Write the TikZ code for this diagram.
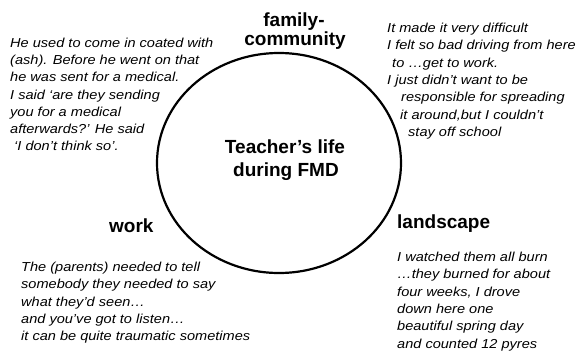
\documentclass[tikz,border=0pt]{standalone}
\usepackage{fontspec}
\setmainfont{Liberation Sans}
\newfontfamily\quotefont[FakeStretch=1.12]{Liberation Sans}
\begin{document}
\begin{tikzpicture}[x=1pt,y=-1pt,
  quote/.style={inner sep=0pt, align=left, anchor=north west, font=\quotefont\itshape\fontsize{13}{17.3}\selectfont},
  head/.style={inner sep=0pt, align=center, font=\bfseries\fontsize{19}{20}\selectfont},
  ring/.style={draw=black, line width=2.2pt}]
\useasboundingbox (0,0) rectangle (581,354);
\draw[ring] (279,163) ellipse [x radius=122, y radius=110];
\node[head, anchor=base] (centre) at (285,153) {Teacher’s life};
\node[head, anchor=base] (centre2) at (286,176.5) {during FMD};
\node[head, anchor=base] (fam) at (294,26.7) {family-};
\node[head, anchor=base] (com) at (295,45) {community};
\node[head, anchor=base west] (work) at (109,232) {work};
\node[head, anchor=base west] (land) at (397,228) {landscape};
\node[quote] (q1) at (10,37.5) {He used to come in coated with\\(ash). Before he went on that\\he was sent for a medical.\\I said ‘are they sending\\you for a medical\\afterwards?’ He said\\\hspace*{4pt}‘I don’t think so’.};
\node[quote] (q2) at (387,23) {It made it very difficult\\I felt so bad driving from here\\\hspace*{5pt}to …get to work.\\I just didn’t want to be\\\hspace*{14pt}responsible for spreading\\\hspace*{13pt}it around,but I couldn’t\\\hspace*{21pt}stay off school};
\node[quote] (q3) at (21,262) {The (parents) needed to tell\\somebody they needed to say\\what they’d seen…\\and you’ve got to listen…\\it can be quite traumatic sometimes};
\node[quote] (q4) at (397,252) {I watched them all burn\\…they burned for about\\four weeks, I drove\\down here one\\beautiful spring day\\and counted 12 pyres};
\end{tikzpicture}
\end{document}
